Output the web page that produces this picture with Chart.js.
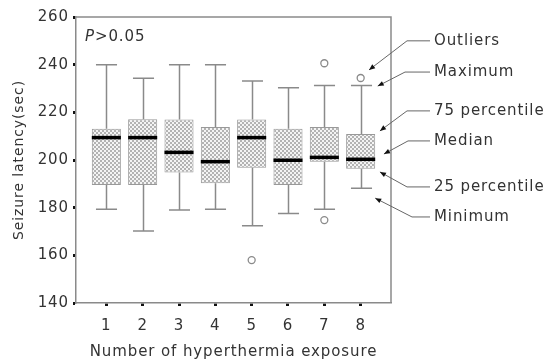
<!DOCTYPE html>
<html>
<head>
  <meta charset="UTF-8">
  <title>Seizure latency by hyperthermia exposure</title>
  <script src="https://cdn.jsdelivr.net/npm/chart.js"></script>
  <style>
    body { margin: 0; background: #fff; }
    #wrap { width: 554px; height: 361px; }
  </style>
</head>
<body>
  <div id="wrap"><canvas id="boxChart" width="554" height="361"></canvas></div>
  <script>
    // values (seconds)
    const exposures = ['1', '2', '3', '4', '5', '6', '7', '8'];
    const minimum   = [179.3, 170.2, 179.0, 179.3, 172.4, 177.6, 179.3, 188.1];
    const q1        = [189.5, 189.5, 194.8, 190.2, 196.8, 189.5, 199.3, 196.3];
    const median    = [209.4, 209.4, 203.2, 199.3, 209.4, 199.9, 201.1, 200.3];
    const q3        = [213.1, 217.1, 217.0, 213.8, 217.0, 213.1, 213.8, 210.9];
    const maximum   = [240.0, 234.3, 240.0, 240.0, 233.1, 230.3, 231.3, 231.3];
    const outliers  = [[], [], [], [], [158], [], [240.6, 174.8], [234.4]];
    const yTicks    = [140, 160, 180, 200, 220, 240, 260];

    const FONT = "'DejaVu Sans', sans-serif";
    const TEXT = '#333';
    const AXIS = '#8a8a8a';
    const SPACING = '0.9px';

    // key on the right: arrow tip (data units), label line (y in data units)
    const keyItems = [
      { text: 'Outliers',      tipX: 8.23, tipY: 237.8, labelY: 250.0, elbow: 16 },
      { text: 'Maximum',       tipX: 8.47, tipY: 231.0, labelY: 236.9, elbow: 14 },
      { text: '75 percentile', tipX: 8.53, tipY: 212.2, labelY: 220.6, elbow: 16 },
      { text: 'Median',        tipX: 8.64, tipY: 202.5, labelY: 208.0, elbow: 17 },
      { text: '25 percentile', tipX: 8.53, tipY: 195.0, labelY: 188.7, elbow: 16 },
      { text: 'Minimum',       tipX: 8.40, tipY: 184.0, labelY: 176.1, elbow: 21 }
    ];

    const ctx = document.getElementById('boxChart').getContext('2d');

    // fine dotted fill of the boxes
    function checker() {
      const c = document.createElement('canvas');
      c.width = 4; c.height = 4;
      const g = c.getContext('2d');
      g.fillStyle = '#f4f4f4'; g.fillRect(0, 0, 4, 4);
      g.fillStyle = '#b3b3b3'; g.fillRect(0, 0, 2, 2); g.fillRect(2, 2, 2, 2);
      return ctx.createPattern(c, 'repeat');
    }

    const boxData = exposures.map((e, i) => ({ x: i + 1, y: [q1[i], q3[i]] }));
    const outlierData = [];
    outliers.forEach((list, i) => list.forEach(v => outlierData.push({ x: i + 1, y: v })));

    const boxExtras = {
      id: 'boxExtras',
      beforeUpdate(chart) { chart.ctx.letterSpacing = SPACING; },
      beforeDraw(chart) { chart.ctx.letterSpacing = SPACING; },
      beforeDatasetsDraw(chart) {
        const { ctx, scales: { x, y } } = chart;
        const capHalf = (x.getPixelForValue(1.58) - x.getPixelForValue(1)) / 2;
        ctx.save();
        ctx.strokeStyle = AXIS;
        ctx.lineWidth = 1.5;
        exposures.forEach((e, i) => {
          const px = Math.round(x.getPixelForValue(i + 1)) + 0.5;
          const yMax = y.getPixelForValue(maximum[i]);
          const yMin = y.getPixelForValue(minimum[i]);
          ctx.beginPath();
          ctx.moveTo(px, y.getPixelForValue(q3[i])); ctx.lineTo(px, yMax);
          ctx.moveTo(px, y.getPixelForValue(q1[i])); ctx.lineTo(px, yMin);
          ctx.moveTo(px - capHalf, yMax); ctx.lineTo(px + capHalf, yMax);
          ctx.moveTo(px - capHalf, yMin); ctx.lineTo(px + capHalf, yMin);
          ctx.stroke();
        });
        ctx.restore();
      },
      afterDatasetsDraw(chart) {
        const { ctx, chartArea: a, scales: { x, y } } = chart;
        ctx.save();

        // medians
        const bars = chart.getDatasetMeta(0).data;
        ctx.strokeStyle = '#000';
        ctx.lineWidth = 3.5;
        bars.forEach((bar, i) => {
          const { x: bx, width } = bar.getProps(['x', 'width'], true);
          const py = y.getPixelForValue(median[i]);
          ctx.beginPath();
          ctx.moveTo(bx - width / 2, py); ctx.lineTo(bx + width / 2, py);
          ctx.stroke();
        });

        // top and right sides of the frame
        ctx.strokeStyle = AXIS;
        ctx.lineWidth = 1.5;
        ctx.beginPath();
        ctx.moveTo(a.left, a.top); ctx.lineTo(a.right, a.top); ctx.lineTo(a.right, a.bottom);
        ctx.stroke();

        // P>0.05
        ctx.fillStyle = TEXT;
        ctx.textBaseline = 'middle';
        ctx.font = 'italic 15px ' + FONT;
        ctx.fillText('P', a.left + 9, a.top + 20);
        const pw = ctx.measureText('P').width;
        ctx.font = '15px ' + FONT;
        ctx.fillText('>0.05', a.left + 9 + pw, a.top + 20);

        // key with arrows
        const textX = a.right + 43;
        keyItems.forEach(k => {
          const ly = y.getPixelForValue(k.labelY);
          const tx = x.getPixelForValue(k.tipX);
          const ty = y.getPixelForValue(k.tipY);
          const ex = a.right + k.elbow;
          ctx.strokeStyle = '#666';
          ctx.lineWidth = 1;
          ctx.beginPath();
          ctx.moveTo(textX - 4, ly); ctx.lineTo(ex, ly); ctx.lineTo(tx, ty);
          ctx.stroke();
          const ang = Math.atan2(ty - ly, tx - ex);
          ctx.fillStyle = '#111';
          ctx.beginPath();
          ctx.moveTo(tx, ty);
          ctx.lineTo(tx - 6 * Math.cos(ang) + 2.5 * Math.sin(ang), ty - 6 * Math.sin(ang) - 2.5 * Math.cos(ang));
          ctx.lineTo(tx - 6 * Math.cos(ang) - 2.5 * Math.sin(ang), ty - 6 * Math.sin(ang) + 2.5 * Math.cos(ang));
          ctx.closePath();
          ctx.fill();
          ctx.fillStyle = TEXT;
          ctx.font = '15px ' + FONT;
          ctx.fillText(k.text, textX, ly);
        });
        ctx.restore();
      }
    };

    new Chart(ctx, {
      data: {
        datasets: [
          {
            type: 'bar',
            data: boxData,
            backgroundColor: checker(),
            borderColor: '#999',
            borderWidth: 1,
            borderSkipped: false,
            barPercentage: 0.8,
            categoryPercentage: 1
          },
          {
            type: 'scatter',
            data: outlierData,
            pointStyle: 'circle',
            pointRadius: 3.5,
            backgroundColor: '#fff',
            borderColor: AXIS,
            borderWidth: 1.3
          }
        ]
      },
      options: {
        responsive: false,
        animation: false,
        layout: { padding: { top: 17, right: 163, left: 0, bottom: 0 } },
        plugins: { legend: { display: false }, tooltip: { enabled: false } },
        scales: {
          x: {
            type: 'linear',
            min: 0.165,
            max: 8.835,
            offset: false,
            afterBuildTicks: s => { s.ticks = exposures.map((e, i) => ({ value: i + 1 })); },
            afterFit: s => { s.height = 58; },
            ticks: {
              callback: v => exposures[v - 1],
              font: { family: FONT, size: 15 },
              color: TEXT,
              padding: 11,
              maxRotation: 0
            },
            grid: { offset: false, drawOnChartArea: false, tickLength: 3, tickWidth: 3, tickColor: '#111' },
            border: { color: AXIS, width: 1.5 },
            title: {
              display: true,
              text: 'Number of hyperthermia exposure',
              font: { family: FONT, size: 15 },
              color: TEXT,
              padding: { top: 0, bottom: 0 }
            }
          },
          y: {
            type: 'linear',
            min: 140,
            max: 260,
            afterBuildTicks: s => { s.ticks = yTicks.map(v => ({ value: v })); },
            afterFit: s => { s.width = 76; },
            ticks: { font: { family: FONT, size: 15 }, color: TEXT, padding: 4 },
            grid: { drawOnChartArea: false, tickLength: 3, tickWidth: 3, tickColor: '#111' },
            border: { color: AXIS, width: 1.5 },
            title: {
              display: true,
              text: 'Seizure latency(sec)',
              font: { family: FONT, size: 14 },
              color: TEXT,
              padding: { top: 11, bottom: 0 }
            }
          }
        }
      },
      plugins: [boxExtras]
    });
  </script>
</body>
</html>
